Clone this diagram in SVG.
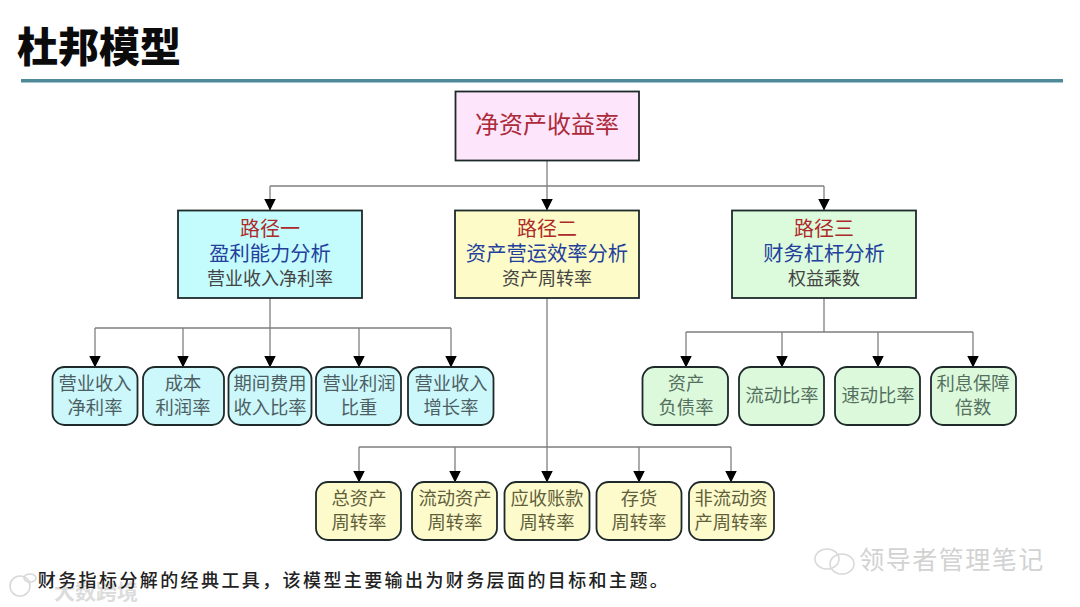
<svg xmlns="http://www.w3.org/2000/svg" width="1080" height="607" viewBox="0 0 1080 607">
<style>
text{font-family:"Liberation Sans","Noto Sans CJK SC",sans-serif;text-anchor:middle}
.box{stroke:#1e2a2a;stroke-width:1.8}
.leaf{stroke:#1e2a2a;stroke-width:1.8}
.pink{fill:#fde6fb}.cyan{fill:#c4fbfd}.yellow{fill:#fdfcc8}.green{fill:#dcfbdc}
.lc{fill:#ccf7fb}.ly{fill:#fdfacb}.lg{fill:#dcf9dc}
.red{fill:#ad2a2a;font-size:20px}
.blue{fill:#233f9c;font-size:20.3px}
.sub{fill:#444;font-size:18px}
.t{font-size:18.3px}
.tc{fill:#4d5f63}.ty{fill:#5f5f3c}.tg{fill:#55705f}
.conn{fill:none;stroke:#7f7f7f;stroke-width:1.3}
.mark{fill:none;stroke:#d9d9d9;stroke-width:1.6}
</style>
<defs>
<marker id="arrow" markerUnits="userSpaceOnUse" markerWidth="12" markerHeight="12" refX="11.500" refY="6" orient="auto">
<path d="M0 0L12 6L0 12Z" fill="#000"/>
</marker>
</defs>
<rect width="1080" height="607" fill="#fff"/>
<text x="99" y="62" style="font-size:41px;font-weight:900;fill:#0b0b0b">杜邦模型</text>
<rect x="21" y="79" width="1042" height="3.500" fill="#4f8a9a"/>
<g id="connectors" class="conn">
<path d="M547 160V186"/>
<path d="M270 186H824"/>
<path d="M270 186V210" marker-end="url(#arrow)"/>
<path d="M547 186V210" marker-end="url(#arrow)"/>
<path d="M824 186V210" marker-end="url(#arrow)"/>
<path d="M270 298V328M95 328H451"/>
<path d="M95 328V367" marker-end="url(#arrow)"/>
<path d="M183 328V367" marker-end="url(#arrow)"/>
<path d="M270 328V367" marker-end="url(#arrow)"/>
<path d="M359 328V367" marker-end="url(#arrow)"/>
<path d="M451 328V367" marker-end="url(#arrow)"/>
<path d="M547 298V447M359 447H731"/>
<path d="M359 447V482" marker-end="url(#arrow)"/>
<path d="M455 447V482" marker-end="url(#arrow)"/>
<path d="M547 447V482" marker-end="url(#arrow)"/>
<path d="M639 447V482" marker-end="url(#arrow)"/>
<path d="M731 447V482" marker-end="url(#arrow)"/>
<path d="M824 298V332M686 332H973"/>
<path d="M686 332V367" marker-end="url(#arrow)"/>
<path d="M782 332V367" marker-end="url(#arrow)"/>
<path d="M878 332V367" marker-end="url(#arrow)"/>
<path d="M973 332V367" marker-end="url(#arrow)"/>
</g>
<g id="root"><rect class="box pink" x="455.500" y="91.500" width="183.500" height="69"/><text x="547" y="133" style="font-size:24px;fill:#ad2a3a">净资产收益率</text></g>
<g id="path1"><rect class="box cyan" x="178" y="210.500" width="184" height="87.500"/><text class="red" x="270" y="236">路径一</text><text class="blue" x="270" y="261">盈利能力分析</text><text class="sub" x="270" y="285">营业收入净利率</text></g>
<g id="path2"><rect class="box yellow" x="455" y="210.500" width="184" height="87.500"/><text class="red" x="547" y="236">路径二</text><text class="blue" x="547" y="261">资产营运效率分析</text><text class="sub" x="547" y="285">资产周转率</text></g>
<g id="path3"><rect class="box green" x="732" y="210.500" width="184" height="87.500"/><text class="red" x="824" y="236">路径三</text><text class="blue" x="824" y="261">财务杠杆分析</text><text class="sub" x="824" y="285">权益乘数</text></g>
<g id="a1"><rect class="leaf lc" x="52.500" y="367" width="85" height="58" rx="12"/><text class="t tc" x="95" y="390">营业收入</text><text class="t tc" x="95" y="414">净利率</text></g>
<g id="a2"><rect class="leaf lc" x="143" y="367" width="81" height="58" rx="12"/><text class="t tc" x="183" y="390">成本</text><text class="t tc" x="183" y="414">利润率</text></g>
<g id="a3"><rect class="leaf lc" x="228.500" y="367" width="83" height="58" rx="12"/><text class="t tc" x="270" y="390">期间费用</text><text class="t tc" x="270" y="414">收入比率</text></g>
<g id="a4"><rect class="leaf lc" x="316" y="367" width="85" height="58" rx="12"/><text class="t tc" x="359" y="390">营业利润</text><text class="t tc" x="359" y="414">比重</text></g>
<g id="a5"><rect class="leaf lc" x="408" y="367" width="85.500" height="58" rx="12"/><text class="t tc" x="451" y="390">营业收入</text><text class="t tc" x="451" y="414">增长率</text></g>
<g id="b1"><rect class="leaf ly" x="316" y="482" width="85" height="58" rx="12"/><text class="t ty" x="359" y="505">总资产</text><text class="t ty" x="359" y="529">周转率</text></g>
<g id="b2"><rect class="leaf ly" x="412" y="482" width="85" height="58" rx="12"/><text class="t ty" x="455" y="505">流动资产</text><text class="t ty" x="455" y="529">周转率</text></g>
<g id="b3"><rect class="leaf ly" x="504.500" y="482" width="85" height="58" rx="12"/><text class="t ty" x="547" y="505">应收账款</text><text class="t ty" x="547" y="529">周转率</text></g>
<g id="b4"><rect class="leaf ly" x="596.500" y="482" width="85" height="58" rx="12"/><text class="t ty" x="639" y="505">存货</text><text class="t ty" x="639" y="529">周转率</text></g>
<g id="b5"><rect class="leaf ly" x="689" y="482" width="85" height="58" rx="12"/><text class="t ty" x="731" y="505">非流动资</text><text class="t ty" x="731" y="529">产周转率</text></g>
<g id="c1"><rect class="leaf lg" x="642.500" y="367" width="85.500" height="58" rx="12"/><text class="t tg" x="686" y="390">资产</text><text class="t tg" x="686" y="414">负债率</text></g>
<g id="c2"><rect class="leaf lg" x="739" y="367" width="85" height="58" rx="12"/><text class="t tg" x="782" y="402">流动比率</text></g>
<g id="c3"><rect class="leaf lg" x="835" y="367" width="85" height="58" rx="12"/><text class="t tg" x="878" y="402">速动比率</text></g>
<g id="c4"><rect class="leaf lg" x="931" y="367" width="85" height="58" rx="12"/><text class="t tg" x="973" y="390">利息保障</text><text class="t tg" x="973" y="414">倍数</text></g>
<ellipse class="mark" cx="20" cy="586" rx="10" ry="10"/><ellipse class="mark" cx="30" cy="578" rx="6" ry="4"/>
<text x="96" y="599" style="font-size:21px;font-weight:700;fill:#dcdcdc">大数跨境</text>
<text x="354" y="587" style="font-size:18px;font-weight:500;fill:#222;letter-spacing:2.4px">财务指标分解的经典工具，该模型主要输出为财务层面的目标和主题。</text>
<ellipse class="mark" cx="827" cy="559" rx="12" ry="10"/><ellipse class="mark" cx="842" cy="564" rx="12" ry="10"/>
<text x="952" y="569" style="font-size:25px;fill:#d2d2d2;letter-spacing:1.5px">领导者管理笔记</text>
</svg>
